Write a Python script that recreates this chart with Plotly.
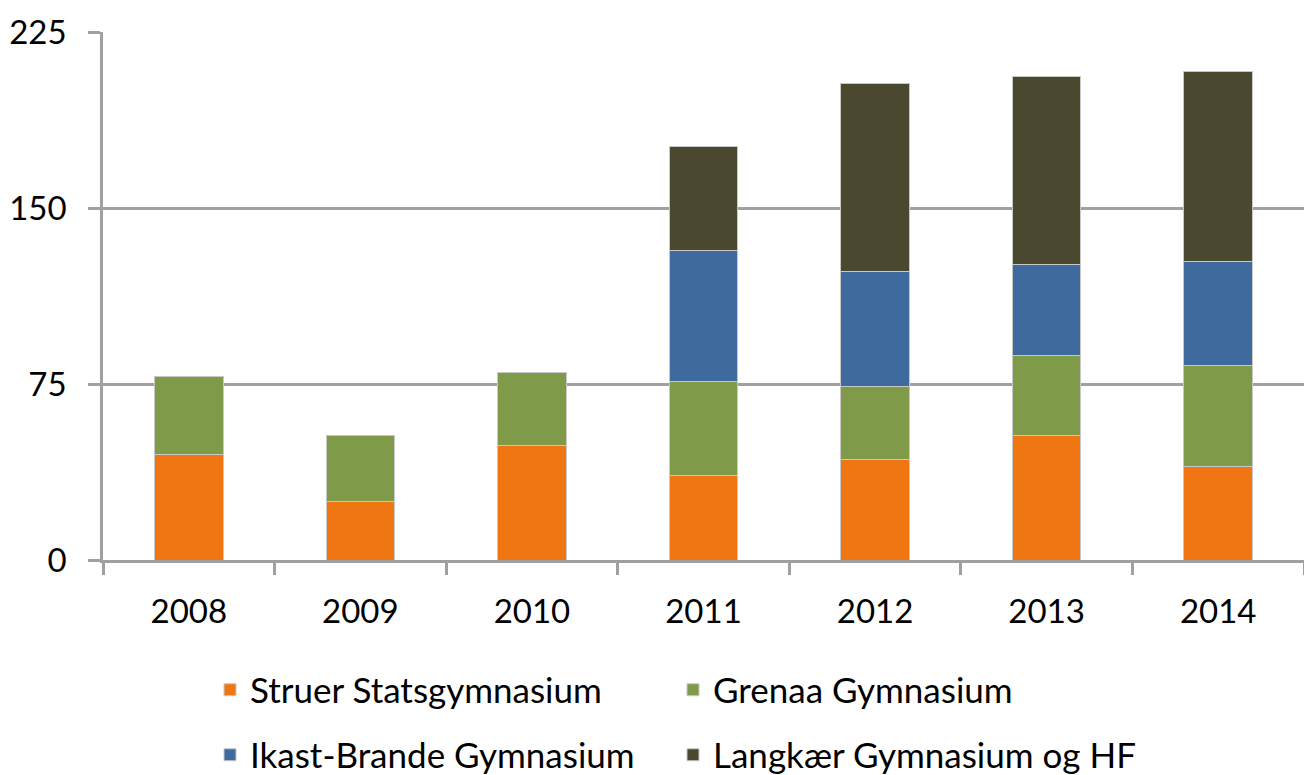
import plotly.graph_objects as go

years = ["2008", "2009", "2010", "2011", "2012", "2013", "2014"]
struer = [45, 25, 49, 36, 43, 53, 40]
grenaa = [33, 28, 31, 40, 31, 34, 43]
ikast = [None, None, None, 56, 49, 39, 44]
langkaer = [None, None, None, 44, 80, 80, 81]
series_names = ["Struer Statsgymnasium", "Grenaa Gymnasium", "Ikast-Brande Gymnasium", "Langkær Gymnasium og HF"]
colors = ["#F07613", "#7F9A48", "#3E6A9D", "#4B4830"]
legend_ids = ["legend", "legend2", "legend3", "legend4"]
y_ticks = [0, 75, 150, 225]

fig = go.Figure()
for name, vals, col, lg in zip(series_names, [struer, grenaa, ikast, langkaer], colors, legend_ids):
    fig.add_trace(go.Bar(x=years, y=vals, name=name, legend=lg,
                         marker=dict(color=col, line=dict(color="#C8C8C8", width=1))))

leg_common = dict(orientation="h", xanchor="left", yanchor="middle",
                  font=dict(size=35), itemwidth=30, bgcolor="rgba(0,0,0,0)")
col_x = [(210 - 103) / 1201, (673 - 103) / 1201]
row_y = [(560 - 690) / 528, (560 - 755) / 528]
fig.update_layout(
    barmode="stack",
    bargap=0.6,
    width=1304, height=775,
    margin=dict(l=103, r=0, t=32, b=215, autoexpand=False),
    plot_bgcolor="white", paper_bgcolor="white",
    font=dict(family="Lato", size=33, color="black"),
    legend=dict(x=col_x[0], y=row_y[0], **leg_common),
    legend2=dict(x=col_x[1], y=row_y[0], **leg_common),
    legend3=dict(x=col_x[0], y=row_y[1], **leg_common),
    legend4=dict(x=col_x[1], y=row_y[1], **leg_common),
    showlegend=True,
)
fig.update_yaxes(range=[0, 225], tickvals=y_ticks, showgrid=True, gridcolor="#A0A0A0", gridwidth=2.5,
                 showline=True, linecolor="#A0A0A0", linewidth=2.5, ticks="outside", ticklen=12,
                 tickcolor="#A0A0A0", tickwidth=2.5, zeroline=False, ticklabelstandoff=15)
fig.update_xaxes(showline=True, linecolor="#A0A0A0", linewidth=2.5, ticks="outside", ticklen=12,
                 tickcolor="#A0A0A0", tickwidth=2.5, tickson="boundaries", ticklabelstandoff=21)

fig.write_html("out.html", config={"displayModeBar": False},
               post_script="document.body.style.margin='0';document.body.style.overflow='hidden';")
